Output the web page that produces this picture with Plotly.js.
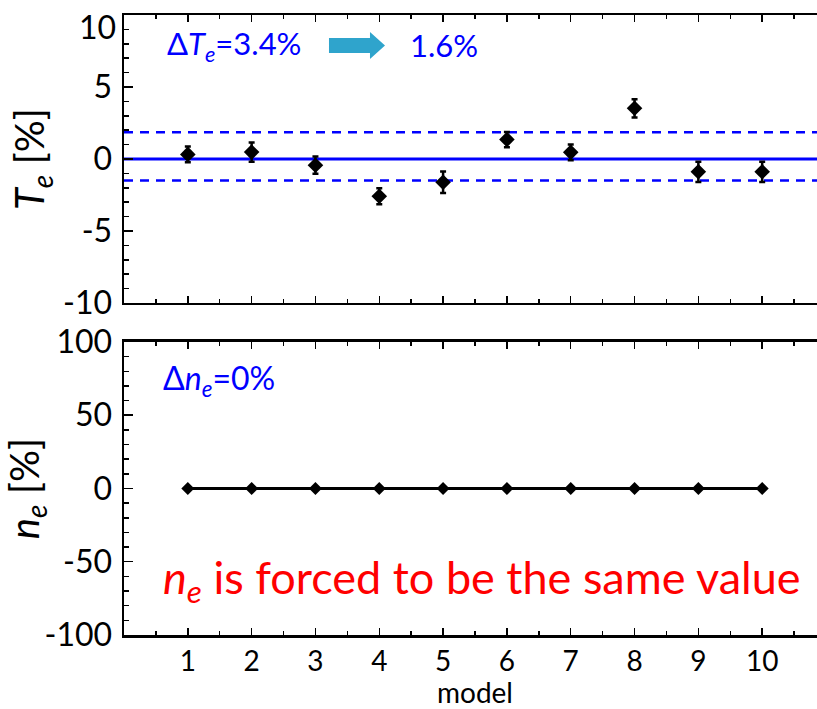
<!DOCTYPE html>
<html>
<head>
<meta charset="utf-8">
<script src="https://cdn.plot.ly/plotly-3.0.1.min.js"></script>
<style>
  html, body { margin: 0; padding: 0; overflow: hidden; background: #fff; }
  #chart { width: 828px; height: 709px; }
</style>
</head>
<body>
<div id="chart"></div>
<script>
// ---- data ----
const models = [1, 2, 3, 4, 5, 6, 7, 8, 9, 10];
const modelLabels = ['1', '2', '3', '4', '5', '6', '7', '8', '9', '10'];
const teValues = [0.32, 0.48, -0.43, -2.59, -1.62, 1.35, 0.46, 3.52, -0.89, -0.89];
const teErrors = [0.55, 0.67, 0.60, 0.55, 0.75, 0.53, 0.54, 0.63, 0.70, 0.70];
const neValues = [0, 0, 0, 0, 0, 0, 0, 0, 0, 0];
const teMean = 0;
const teUpper = 1.85;
const teLower = -1.5;
const teTickVals = [-10, -5, 0, 5, 10];
const teTickText = ['-10', '-5', '0', '5', ''];
const teTopLabel = '10';
const neTickVals = [-100, -50, 0, 50, 100];
const neTickText = ['-100', '-50', '0', '50', '100'];

const FONT = 'Lato, "Open Sans", "DejaVu Sans", sans-serif';
const BLUE = '#0000FF';

const commonX = {
  range: [0, 11],
  showline: true, linecolor: '#000', linewidth: 2.5,
  mirror: 'ticks', ticks: 'inside', ticklen: 7, tickwidth: 1.5, tickcolor: '#000',
  tickmode: 'array', tickvals: models, ticktext: modelLabels,
  minor: { tickmode: 'linear', tick0: 0, dtick: 0.5, ticks: 'inside', ticklen: 4, tickwidth: 1.5, tickcolor: '#000' },
  showgrid: false, zeroline: false, fixedrange: true
};
const commonY = {
  showline: true, linecolor: '#000', linewidth: 2.5,
  mirror: 'ticks', ticks: 'inside', ticklen: 9, tickwidth: 1.5, tickcolor: '#000',
  tickmode: 'array',
  showgrid: false, zeroline: false, fixedrange: true,
  tickfont: { family: FONT, size: 32, color: '#000' },
  ticklabelstandoff: 3
};

const traces = [
  {
    x: models, y: teValues, xaxis: 'x2', yaxis: 'y2',
    type: 'scatter', mode: 'markers',
    marker: { symbol: 'diamond', size: 12, color: '#000' },
    error_y: { type: 'data', array: teErrors, visible: true, color: '#000', thickness: 2.5, width: 3 },
    showlegend: false, hoverinfo: 'skip'
  },
  {
    x: models, y: neValues, xaxis: 'x', yaxis: 'y',
    type: 'scatter', mode: 'lines+markers',
    line: { color: '#000', width: 3 },
    marker: { symbol: 'diamond', size: 10, color: '#000' },
    showlegend: false, hoverinfo: 'skip'
  }
];

const layout = {
  width: 828, height: 709,
  margin: { l: 124, r: 2, t: 15, b: 74 },
  paper_bgcolor: '#fff', plot_bgcolor: '#fff',
  font: { family: FONT, color: '#000' },
  showlegend: false,
  xaxis: Object.assign({}, commonX, {
    domain: [0, 1], anchor: 'y',
    tickfont: { family: FONT, size: 28, color: '#000' },
    ticklabelstandoff: 0,
    title: { text: 'model', font: { family: FONT, size: 28, color: '#000' }, standoff: 2 }
  }),
  yaxis: Object.assign({}, commonY, {
    domain: [0, 0.4726], anchor: 'x',
    range: [-100, 100], tickvals: neTickVals, ticktext: neTickText,
    minor: { tickmode: 'linear', tick0: 0, dtick: 10, ticks: 'inside', ticklen: 5, tickwidth: 1.5, tickcolor: '#000' },
    title: { text: '<i>n</i><sub><i>e</i></sub> [%]', font: { family: FONT, size: 40, color: '#000' }, standoff: 6 }
  }),
  xaxis2: Object.assign({}, commonX, {
    domain: [0, 1], anchor: 'y2', showticklabels: false
  }),
  yaxis2: Object.assign({}, commonY, {
    domain: [0.5355, 1], anchor: 'x2',
    range: [-10, 10], tickvals: teTickVals, ticktext: teTickText,
    minor: { tickmode: 'linear', tick0: 0, dtick: 1, ticks: 'inside', ticklen: 5, tickwidth: 1.5, tickcolor: '#000' },
    title: { text: '<i>T</i><sub><i>e</i></sub> [%]', font: { family: FONT, size: 40, color: '#000' }, standoff: 6 }
  }),
  shapes: [
    { type: 'line', xref: 'x2 domain', yref: 'y2', x0: 0, x1: 1, y0: teMean, y1: teMean, line: { color: BLUE, width: 3 }, layer: 'below' },
    { type: 'line', xref: 'x2 domain', yref: 'y2', x0: 0, x1: 1, y0: teUpper, y1: teUpper, line: { color: BLUE, width: 2.5, dash: '9px,7px' }, layer: 'below' },
    { type: 'line', xref: 'x2 domain', yref: 'y2', x0: 0, x1: 1, y0: teLower, y1: teLower, line: { color: BLUE, width: 2.5, dash: '9px,7px' }, layer: 'below' },
    { type: 'path', xref: 'paper', yref: 'paper',
      path: 'M 0.2920,0.9629 L 0.3504,0.9629 L 0.3504,0.9726 L 0.3718,0.9508 L 0.3504,0.9290 L 0.3504,0.9387 L 0.2920,0.9387 Z',
      fillcolor: '#2FA4CC', line: { width: 0 } }
  ],
  annotations: [
    { xref: 'paper', yref: 'y2', x: -0.0085, y: 9.2, xanchor: 'right', yanchor: 'middle', showarrow: false,
      text: teTopLabel, font: { family: FONT, size: 32, color: '#000' } },
    { xref: 'paper', yref: 'paper', x: 0.0584, y: 0.9516, xanchor: 'left', yanchor: 'middle', showarrow: false,
      text: 'Δ<i>T</i><sub><i>e</i></sub>=3.4%', font: { family: FONT, size: 31, color: BLUE } },
    { xref: 'paper', yref: 'paper', x: 0.405, y: 0.9516, xanchor: 'left', yanchor: 'middle', showarrow: false,
      text: '1.6%', font: { family: FONT, size: 31, color: BLUE } },
    { xref: 'paper', yref: 'paper', x: 0.052, y: 0.411, xanchor: 'left', yanchor: 'middle', showarrow: false,
      text: 'Δ<i>n</i><sub><i>e</i></sub>=0%', font: { family: FONT, size: 32, color: BLUE } },
    { xref: 'paper', yref: 'paper', x: 0.052, y: 0.0887, xanchor: 'left', yanchor: 'middle', showarrow: false,
      text: '<i>n</i><sub><i>e</i></sub> is forced to be the same value', font: { family: FONT, size: 45, color: '#FF0000' } }
  ]
};

Plotly.newPlot('chart', traces, layout, { staticPlot: true, displayModeBar: false });
</script>
</body>
</html>
